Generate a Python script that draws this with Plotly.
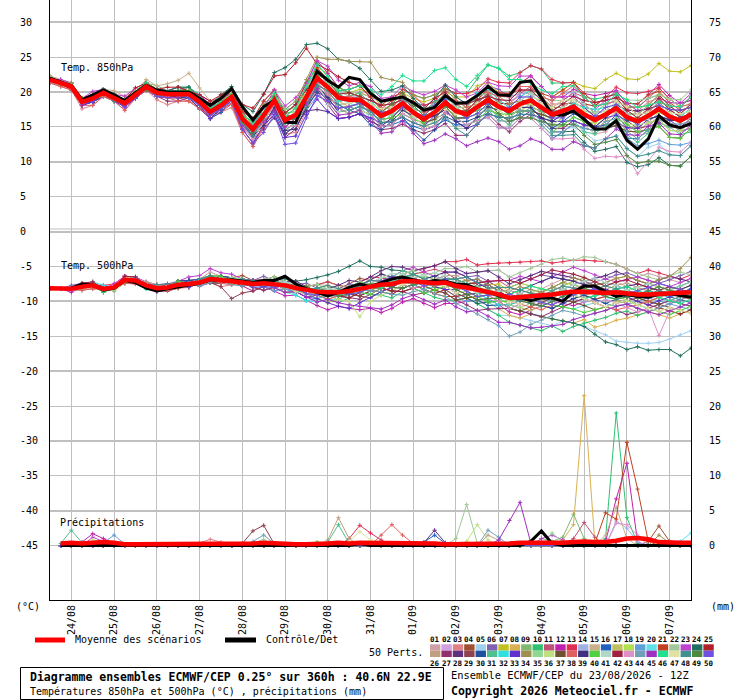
import pandas as pd
import plotly.graph_objects as go

FONT = "DejaVu Sans Mono"
GRID = "#c0c0c0"

# 6-hourly steps, run of 23/08/2026 12Z, 360h
times = pd.date_range("2026-08-23 12:00", periods=61, freq="6h")
day_ticks = pd.date_range("2026-08-24", "2026-09-07", freq="D")
day_labels = [d.strftime("%d/%m") for d in day_ticks]

left_ticks = list(range(-45, 31, 5))
right_ticks = list(range(0, 76, 5))

member_colors = [
    "#d0a0a8", "#d0a0e0", "#e08088", "#a05030", "#a0d0f0", "#8060b0", "#c0c020", "#d8b050", "#80b870", "#30c070",
    "#c05078", "#c020b0", "#e03050", "#a0b0e0", "#c8b088", "#2060c0", "#c0c060", "#b0e050", "#60a0d8", "#60e0e8",
    "#c04020", "#a0c898", "#c040d0", "#207060", "#b02028", "#c0a080", "#903070", "#603080", "#904050", "#2050a0",
    "#50c090", "#30e0e0", "#6030d0", "#a09050", "#90d890", "#c0e080", "#705030", "#e06060", "#403080", "#50d040",
    "#b0d8c8", "#a02040", "#e090c8", "#70a0b8", "#a030c0", "#20e090", "#e0e0a0", "#409090", "#508840", "#7050e0",
]

# ---- Temp 850 hPa (degC)
mean850 = [21.8, 21.3, 20.8, 18.6, 19.1, 19.9, 19.2, 18.4, 19.6, 20.8,
           19.9, 19.7, 19.7, 19.7, 18.6, 17.2, 18.1, 19.3, 16.2, 14.7,
           16.7, 18.8, 16.0, 16.7, 19.3, 22.0, 20.7, 19.2, 18.9, 18.9,
           17.8, 16.6, 17.3, 18.4, 17.1, 16.1, 17.1, 18.5, 17.3, 16.8,
           17.9, 18.9, 17.9, 17.3, 18.3, 18.8, 17.8, 16.8, 17.3, 17.9,
           16.8, 16.0, 16.8, 17.7, 16.4, 15.8, 16.6, 17.6, 16.5, 15.9, 16.8]
ctrl850 = [22.0, 21.5, 20.9, 18.9, 19.6, 20.3, 19.6, 18.8, 19.9, 21.0,
           20.3, 20.0, 20.0, 20.0, 19.1, 18.1, 19.1, 20.5, 17.9, 16.0,
           17.9, 18.8, 15.7, 15.6, 19.3, 23.0, 21.7, 20.7, 22.1, 21.8,
           19.8, 18.7, 19.0, 19.3, 18.5, 17.4, 17.8, 19.5, 18.4, 18.5,
           19.5, 20.8, 19.6, 19.5, 21.4, 21.6, 19.2, 16.8, 16.7, 17.3,
           16.1, 14.7, 14.7, 15.9, 13.1, 11.8, 13.3, 16.6, 15.3, 14.9, 15.5]
# member offsets from the mean, in half degrees
dev850 = [
    [0,0,0,1,1,0,0,-1,0,0, 1,1,0,1,2,2,1,0,-1,-2, -2,-1,0,1,2,3,2,1,0,-1, -2,-3,-2,-1,-2,-3,-2,0,1,0, -1,-2,-3,-4,-3,-2,-3,-4,-5,-4, -3,-4,-5,-4,-3,-4,-5,-4,-3,-2, -3],
    [1,1,0,0,1,1,1,0,1,1, 0,0,1,0,-1,-1,0,1,2,3, 2,1,2,3,4,3,2,2,1,1, 2,3,4,3,2,3,4,5,4,3, 2,1,2,3,2,1,0,1,2,1, 0,1,2,3,4,3,2,3,4,5, 4],
    [-1,-1,-1,-2,-2,-1,-1,-2,-1,-1, -2,-3,-2,-2,-1,-2,-2,-3,-4,-5, -4,-3,-4,-5,-4,-3,-2,-1,0,1, 0,1,2,1,0,-1,0,1,2,1, 2,3,2,1,2,3,4,3,2,3, 4,5,4,3,2,3,4,3,2,1, 2],
    [0,0,1,0,0,1,0,0,0,1, 1,0,0,1,1,0,0,1,2,1, 0,-1,-2,-1,0,-1,-2,-3,-4,-3, -2,-3,-4,-3,-2,-1,-2,-3,-2,-1, 0,1,0,-1,-2,-1,0,1,2,1, 0,-1,0,1,2,3,2,1,2,3, 2],
    [0,0,0,0,-1,0,0,0,-1,0, 0,-1,-1,0,0,-1,-1,0,1,2, 1,0,-1,0,1,0,-1,-2,-1,0, 1,0,-1,-2,-1,0,1,2,1,0, -1,-2,-3,-2,-1,-2,-3,-4,-5,-6, -5,-6,-7,-8,-9,-10,-9,-10,-11,-10, -9],
    [0,1,1,1,0,0,1,1,0,0, 1,1,1,2,1,1,2,2,1,0, 1,2,1,0,-1,-2,-1,0,1,2, 3,4,3,2,3,4,3,2,1,2, 3,4,5,4,3,2,1,2,3,4, 3,2,1,0,1,2,1,0,-1,0, 1],
    [-1,0,0,1,0,0,-1,0,0,0, -1,0,0,0,1,1,0,0,1,1, 2,1,0,1,2,3,4,3,2,3, 4,3,2,3,4,5,4,3,4,5, 6,5,4,5,6,7,6,5,6,7, 8,9,10,10,11,12,12,13,13,14, 14],
    [0,0,0,-1,0,0,0,-1,0,0, 0,0,-1,-1,0,0,-1,-1,0,1, 0,-1,0,1,2,1,0,-1,-2,-1, 0,1,0,-1,0,1,2,1,0,-1, -2,-1,0,1,0,-1,-2,-1,0,1, 2,1,0,-1,0,1,2,3,2,1, 0],
    [0,-1,0,0,1,1,0,1,1,1, 2,1,1,2,1,0,1,1,0,-1, -2,-3,-2,-1,-2,-3,-4,-3,-2,-1, -2,-1,0,-1,-2,-1,0,1,0,-1, -2,-3,-2,-1,0,-1,-2,-3,-4,-3, -2,-3,-4,-5,-4,-3,-2,-3,-4,-3, -2],
    [1,0,0,1,1,1,1,0,0,1, 1,1,2,2,2,1,1,2,3,2, 1,2,3,2,3,4,3,2,3,4, 5,4,3,4,5,6,5,4,5,6, 8,10,11,10,9,10,11,9,8,7, 5,6,5,4,3,4,5,4,3,2, 3],
    [-1,0,-1,-1,0,-1,-1,-1,0,-1, 0,-1,-1,-2,-2,-1,-2,-2,-3,-2, -1,-2,-3,-2,-1,0,-1,-2,-1,0, 1,2,1,0,1,2,3,2,1,2, 3,2,1,2,3,4,3,2,3,4, 5,4,3,2,3,4,5,6,5,4, 5],
    [0,0,1,1,0,1,1,1,1,0, 0,1,2,1,2,3,2,1,2,3, 4,3,2,3,4,5,4,3,2,1, 0,-1,-2,-1,0,1,0,-1,0,1, 2,3,4,5,6,7,6,5,4,5, 6,7,6,5,4,5,6,7,6,5, 4],
    [0,0,0,0,0,-1,0,0,0,-1, -1,0,0,-1,0,0,-1,0,1,2, 3,2,1,2,3,2,1,2,3,4, 3,2,3,4,5,4,3,4,5,6, 5,6,7,8,9,10,11,10,8,7, 5,4,5,6,7,8,7,6,5,4, 5],
    [0,0,0,-1,-1,0,0,-1,-1,0, -1,-1,0,0,-1,-1,0,0,-1,-2, -3,-2,-1,-2,-3,-2,-1,-2,-3,-2, -1,0,1,0,-1,0,1,2,1,0, 1,2,3,4,3,2,3,4,5,4, 3,2,3,4,3,2,1,2,3,2, 1],
    [1,1,1,1,1,1,2,2,1,2, 2,3,4,6,4,3,2,1,0,-1, -2,-1,0,1,0,-1,0,1,2,1, 0,-1,0,1,0,-1,-2,-1,0,1, 0,-1,-2,-3,-2,-1,0,1,0,-1, -2,-1,0,-1,-2,-3,-2,-1,0,-1, -2],
    [0,0,0,-1,-1,-1,0,0,-1,-1, -1,-1,-1,0,-1,-2,-2,-1,-2,-3, -2,-3,-4,-3,-2,-1,-2,-3,-2,-1, -2,-3,-4,-5,-4,-3,-4,-5,-4,-3, -4,-5,-6,-5,-4,-5,-6,-7,-6,-5, -4,-3,-4,-5,-6,-5,-4,-3,-2,-3, -4],
    [0,1,0,0,1,0,0,1,0,0, 0,1,1,1,0,1,1,0,1,2, 1,2,1,0,1,0,-1,0,1,2, 3,2,1,2,3,2,1,0,1,2, 1,0,-1,0,1,0,-1,-2,-1,0, 1,2,3,2,1,2,3,4,3,2, 3],
    [0,0,-1,0,0,0,0,0,-1,0, 0,-1,0,0,0,-1,0,-1,-2,-1, 0,1,2,3,2,1,0,-1,0,1, 2,1,0,1,2,3,2,1,2,3, 2,1,0,-1,0,1,2,1,0,-1, -2,-1,0,1,2,1,0,-1,0,1, 0],
    [0,0,0,0,0,1,0,0,0,1, 0,0,0,1,1,0,0,1,0,-1, 0,-1,-2,-3,-4,-5,-4,-3,-2,-3, -4,-3,-2,-1,0,-1,-2,-3,-2,-1, 0,1,0,-1,-2,-3,-4,-3,-2,-1, -2,-3,-4,-5,-6,-7,-8,-9,-8,-7, -8],
    [-1,-1,0,0,0,-1,-1,0,0,0, -1,0,0,-1,-1,0,0,-1,1,2, 3,2,3,4,3,2,1,0,-1,-2, -3,-2,-1,0,1,2,1,0,-1,0, 1,2,1,0,-1,-2,-3,-2,-1,0, 1,2,3,2,1,0,1,2,3,2, 1],
    [0,0,0,1,0,0,0,1,1,0, 0,0,1,0,0,1,1,2,2,3, 4,3,2,3,4,3,2,3,2,1, 2,3,4,3,2,1,2,3,2,1, 2,3,4,5,4,3,4,5,6,7, 6,5,4,3,4,5,6,5,4,3, 2],
    [0,0,0,0,1,0,0,0,1,0, 0,0,-1,0,0,-1,-1,0,-1,-2, -1,0,1,0,-1,-2,-3,-4,-3,-2, -1,-2,-3,-2,-1,-2,-3,-4,-5,-4, -3,-2,-1,-2,-3,-4,-3,-2,-1,0, 1,2,3,4,5,6,5,4,5,6, 7],
    [0,1,1,1,2,1,1,2,2,1, 1,1,1,1,2,2,2,1,0,1, 2,3,4,5,4,5,6,5,4,5, 6,5,4,5,6,7,6,5,6,5, 4,5,6,7,8,7,6,5,4,3, 2,3,4,5,4,3,2,3,4,5, 6],
    [0,0,0,0,0,1,1,0,1,1, 1,1,2,2,1,2,3,3,4,5, 6,8,15,16,15,10,11,11,11,9, 8,7,6,5,4,3,4,5,4,3, 2,1,0,-1,-2,-3,-4,-5,-6,-7, -8,-9,-10,-11,-13,-13,-14,-14,-14,-13, -12],
    [0,0,0,1,1,1,1,1,2,1, 1,2,2,1,2,3,3,2,4,6, 6,7,13,15,14,4,5,6,5,4, 3,2,1,2,3,2,1,0,1,0, -1,0,1,2,1,0,-1,0,1,2, 3,4,5,4,3,2,3,4,3,2, 3],
    [0,0,0,-1,0,0,0,0,0,0, 0,0,0,0,-1,0,0,0,-1,-1, -2,-1,0,-1,-2,-3,-2,-1,0,1, 0,-1,-2,-1,0,1,2,3,2,1, 0,1,2,1,0,-1,0,1,0,-1, -2,-3,-2,-1,-2,-3,-4,-3,-2,-3, -4],
    [0,0,-1,-1,-1,0,0,-1,-1,-1, -1,-2,-2,-1,-2,-2,-1,-2,-3,-4, -3,-4,-5,-4,-3,-4,-5,-6,-5,-4, -3,-4,-5,-6,-5,-4,-5,-6,-7,-6, -5,-4,-5,-6,-5,-4,-3,-4,-5,-4, -3,-2,-3,-4,-3,-2,-1,-2,-3,-2, -1],
    [0,0,0,0,-1,-1,0,0,-1,-1, 0,0,-1,-1,0,0,-1,-1,-2,-3, -4,-5,-4,-3,-4,-9,-7,-6,-5,-4, -4,-3,-2,-1,-2,-3,-4,-3,-2,-1, 0,-1,-2,-3,-4,-3,-2,-1,0,1, 2,1,0,1,2,3,2,1,2,1, 0],
    [0,0,0,0,0,0,0,1,0,0, 1,1,0,0,1,1,0,0,1,0, -1,0,1,0,-1,-2,-3,-4,-3,-2, -1,0,1,2,1,0,-1,-2,-1,0, 1,2,1,0,-1,-2,-1,0,1,2, 3,2,1,0,-1,-2,-3,-2,-1,0, 1],
    [0,0,0,0,-1,-1,-1,0,0,-1, -1,-1,-1,-1,-2,-1,-1,-1,-2,-2, -3,-2,-1,-2,-3,-4,-3,-2,-3,-4, -5,-4,-3,-4,-5,-6,-5,-4,-3,-2, -3,-4,-3,-2,-1,-2,-3,-4,-3,-2, -1,-2,-3,-2,-1,0,-1,-2,-1,0, -1],
    [0,0,1,0,0,0,1,0,0,0, 0,1,0,0,0,1,0,0,-1,-2, -1,-2,-3,-2,-1,-2,-1,0,1,2, 1,0,-1,0,1,2,3,2,1,0, -1,-2,-3,-4,-3,-2,-1,-2,-3,-4, -5,-4,-3,-4,-5,-6,-5,-4,-3,-4, -5],
    [0,0,0,0,0,0,0,0,0,0, 0,0,0,0,1,1,0,0,1,2, 2,1,0,-1,0,1,0,-1,0,1, 2,1,0,1,2,1,0,1,2,3, 4,3,2,1,2,3,2,1,0,1, 2,3,2,1,0,-1,0,1,2,1, 2],
    [0,0,0,-1,-1,0,-1,-1,-1,-1, -1,-1,0,-1,-1,-2,-1,-1,-3,-4, -3,-4,-5,-6,-5,-6,-7,-6,-5,-4, -3,-2,-3,-4,-3,-2,-1,-2,-3,-4, -5,-4,-3,-2,-3,-4,-3,-2,-3,-4, -3,-2,-1,-2,-3,-2,-1,0,-1,-2, -3],
    [0,0,1,1,0,1,1,0,0,1, 1,0,1,1,0,1,1,0,1,2, 3,2,3,4,5,6,8,11,11,11, 13,11,9,6,5,6,5,4,3,2, 3,4,3,2,1,2,3,2,1,2, 3,2,1,2,3,4,3,2,1,0, 1],
    [0,0,0,0,0,0,0,0,1,0, 0,0,0,1,0,0,0,1,1,0, 1,2,3,2,1,0,1,2,1,0, -1,-2,-1,0,1,0,-1,0,1,2, 3,2,1,0,1,2,3,4,3,2, 1,0,-1,0,1,2,3,4,5,4, 3],
    [0,-1,0,0,0,-1,0,0,0,-1, 0,-1,-1,0,-1,-1,0,-1,-2,-3, -2,-1,-2,-3,-2,-1,-2,-3,-4,-3, -2,-1,0,-1,-2,-3,-2,-1,0,-1, -2,-3,-4,-3,-2,-1,-2,-3,-2,-1, 0,-1,-2,-3,-2,-1,-2,-3,-4,-3, -2],
    [0,0,0,0,0,0,0,0,0,0, 0,0,0,0,0,0,0,0,0,-1, 0,1,0,-1,-2,-1,-2,-3,-2,-1, 0,1,2,1,0,-1,-2,-1,0,1, 2,1,0,-1,-2,-3,-2,-1,0,-1, -2,-3,-4,-5,-4,-3,-4,-5,-6,-5, -4],
    [-1,-1,-1,-1,-2,-1,-1,-2,-1,-1, -1,-1,-2,-2,-2,-1,-1,-2,-4,-5, -3,-2,-1,-2,-3,-2,-1,0,1,0, -1,0,1,2,3,2,1,2,3,2, 1,2,3,4,5,4,3,4,5,6, 5,4,3,2,3,2,1,2,3,4, 3],
    [0,0,0,0,-1,0,0,0,-1,0, 0,0,-1,0,0,0,-1,0,-1,-2, -3,-2,-3,-4,-3,-2,-3,-4,-3,-2, -1,-2,-3,-2,-1,0,-1,-2,-3,-4, -3,-2,-1,0,-1,-2,-3,-2,-1,0, -1,-2,-1,0,1,0,-1,-2,-1,0, -1],
    [0,0,0,1,0,0,0,1,0,0, 0,0,1,1,0,0,1,1,0,-1, 0,1,2,1,0,1,2,3,2,1, 0,-1,-2,-3,-2,-1,0,-1,-2,-3, -4,-3,-2,-1,-2,-3,-4,-5,-4,-3, -2,-3,-4,-3,-2,-3,-4,-5,-6,-5, -4],
    [0,0,0,0,0,0,0,0,0,0, 0,0,0,0,0,0,0,0,-1,-1, 0,-1,0,1,0,-1,-5,-4,-3,-2, -1,0,1,0,-1,0,1,2,1,0, 1,0,-1,0,1,2,1,0,1,2, 3,2,1,2,1,0,-1,0,1,0, -1],
    [0,0,0,0,1,0,0,0,1,0, 0,0,1,0,0,0,1,0,0,-1, 0,1,2,3,2,1,0,1,2,1, 2,3,2,1,2,3,4,3,2,3, 2,1,2,3,4,3,2,1,2,3, 4,5,4,3,2,1,2,3,2,1, 0],
    [0,0,0,0,0,0,0,0,0,0, 0,0,0,-1,-1,0,0,-1,-2,-3, -2,-1,-2,-3,-2,-1,-2,-3,-2,-1, -2,-3,-4,-3,-2,-3,-4,-3,-2,-3, -4,-5,-6,-5,-4,-5,-6,-7,-8,-9, -10,-11,-12,-14,-11,-15,-13,-11,-10,-9, -8],
    [0,0,0,0,0,0,0,0,0,0, 1,0,0,0,0,0,0,0,0,1, 2,1,0,-1,-2,-1,0,1,0,-1, -2,-1,0,1,2,3,2,1,0,-1, -2,-3,-4,-3,-2,-3,-4,-5,-6,-5, -4,-3,-2,-3,-4,-5,-4,-3,-2,-1, -2],
    [0,0,0,-1,0,0,0,-1,0,0, 0,-1,-1,0,-1,-1,0,-1,-2,-1, -2,-3,-2,-1,-2,-3,-4,-5,-4,-3, -4,-5,-6,-5,-6,-7,-8,-9,-8,-9, -10,-11,-10,-11,-12,-11,-10,-10,-11,-10, -9,-8,-7,-6,-5,-4,-3,-4,-5,-4, -3],
    [0,0,0,0,1,1,0,0,1,1, 0,1,1,0,1,1,1,0,1,2, 1,2,1,2,3,4,3,2,3,4, 5,6,7,8,9,11,12,10,9,8, 9,10,11,9,7,5,5,6,7,6, 5,4,3,4,5,4,3,2,3,4, 5],
    [0,0,0,0,0,0,0,0,0,0, 0,0,0,0,0,0,0,-1,-1,0, 1,0,-1,0,1,0,-1,-2,-1,0, 1,2,1,0,-1,-2,-3,-2,-1,0, 1,0,-1,-2,-1,0,1,2,3,2, 1,0,1,2,3,2,1,0,1,2, 1],
    [0,0,0,0,0,0,-1,0,0,0, -1,0,0,-1,0,0,0,0,-1,-2, -1,0,-1,-2,-3,-2,-1,-2,-3,-2, -1,-2,-3,-4,-3,-2,-3,-4,-5,-6, -5,-4,-3,-2,-3,-4,-5,-6,-7,-8, -9,-8,-7,-8,-9,-10,-11,-12,-11,-10, -9],
    [0,0,0,0,0,0,0,0,0,-1, 0,0,0,0,-1,0,0,0,-1,-1, 0,1,0,-1,0,1,2,1,0,-1, 0,1,2,3,2,1,0,-1,-2,-1, 0,-1,-2,-3,-4,-5,-4,-3,-4,-5, -6,-7,-8,-9,-11,-12,-13,-15,-14,-13, -12],
    [0,0,0,0,-1,0,0,-1,-1,0, -1,-1,0,-1,-1,-1,-1,-1,-3,-4, -5,-4,-7,-8,-6,-5,-4,-3,-2,-1, 0,1,0,-1,0,1,2,1,0,-1, -2,-1,0,1,2,1,0,-1,-2,-1, 0,1,2,1,0,-1,0,1,2,3, 2],
]

# ---- Temp 500 hPa (degC)
mean500 = [-8.1, -8.2, -8.2, -7.9, -7.7, -8.2, -8.0, -6.9, -7.0, -7.7,
           -8.1, -8.0, -7.6, -7.5, -7.3, -6.8, -6.9, -7.1, -7.3, -7.5,
           -7.4, -7.5, -7.7, -8.1, -8.4, -8.6, -8.7, -8.7, -8.5, -8.2,
           -8.0, -7.6, -7.5, -7.1, -7.1, -7.3, -7.4, -7.3, -7.8, -8.0,
           -8.3, -8.6, -9.0, -9.5, -9.4, -9.3, -9.2, -9.0, -8.8, -8.6,
           -8.6, -8.7, -8.8, -8.7, -8.9, -9.0, -9.0, -8.9, -8.9, -8.8, -8.7]
ctrl500 = [-8.2, -8.2, -8.1, -7.5, -7.6, -8.4, -8.1, -7.0, -7.3, -8.1,
           -8.5, -8.2, -7.9, -7.6, -7.4, -6.9, -7.0, -6.9, -7.1, -7.3,
           -7.0, -7.0, -6.4, -7.5, -8.2, -8.7, -9.2, -8.7, -8.0, -7.5,
           -7.9, -7.3, -6.8, -6.5, -6.9, -7.3, -7.0, -7.1, -7.5, -7.6,
           -8.2, -8.6, -9.2, -9.5, -9.5, -9.9, -9.5, -9.5, -10.0, -8.6,
           -7.8, -7.8, -8.6, -9.3, -9.0, -9.3, -9.4, -9.0, -8.9, -9.2, -9.4]
dev500 = [
    [0,0,0,0,0,0,0,1,1,0, 0,0,1,1,1,2,1,1,0,0, 1,1,0,0,1,2,2,1,1,0, 0,1,2,3,2,1,2,3,2,1, 0,1,2,3,4,3,2,3,4,5, 4,3,2,3,4,5,6,5,4,3, 4],
    [0,0,0,1,1,0,0,0,-1,0, 1,1,0,0,0,-1,-1,0,1,1, 0,-1,-1,0,1,0,-1,-2,-1,0, 1,2,1,0,-1,0,1,2,3,4, 5,6,7,6,5,6,7,6,5,4, 3,4,5,4,3,2,3,4,5,4, 3],
    [0,0,0,-1,-1,0,0,-1,-1,0, 0,-1,-1,0,-1,-1,-2,-1,0,-1, -2,-1,0,1,0,-1,-2,-1,0,1, 2,1,0,1,2,3,2,1,0,-1, 0,1,2,1,0,-1,-2,-1,0,1, 2,1,0,-1,-2,-3,-2,-1,-2,-3, -4],
    [0,0,0,0,0,0,-1,0,0,0, 0,1,0,0,1,0,0,1,2,1, 0,1,2,1,0,-1,0,1,2,3, 2,1,2,1,0,-1,-2,-1,0,1, 2,3,2,1,0,-1,-2,-3,-4,-3, -2,-1,0,1,0,-1,-2,-3,-2,-1, 0],
    [0,0,0,0,0,0,0,0,0,0, 0,0,-1,0,0,-1,0,0,-1,0, 0,-1,-2,-1,0,-1,-2,-1,0,-1, -2,-3,-2,-1,-2,-3,-2,-1,-2,-3, -4,-5,-6,-5,-6,-7,-8,-9,-8,-9, -10,-11,-12,-14,-14,-14,-14,-14,-13,-12, -11],
    [0,0,1,1,0,0,0,1,1,0, 0,1,1,1,0,1,1,0,0,1, 2,1,0,1,2,1,0,1,2,1, 0,-1,0,1,2,1,0,1,2,3, 4,3,2,3,4,5,6,5,4,3, 2,3,4,5,6,5,4,3,4,5, 6],
    [0,0,0,0,0,-1,0,0,0,0, -1,0,0,-1,0,0,0,-1,0,0, -1,-2,-1,0,-1,-2,-3,-2,-1,-2, -1,0,1,0,-1,-2,-3,-2,-1,0, 1,2,3,2,1,0,1,2,3,2, 1,2,3,4,5,4,3,2,1,0, -1],
    [0,0,0,0,0,0,0,1,0,0, 0,0,0,1,0,0,1,0,0,0, 0,1,0,-1,0,1,0,-1,-2,-1, 0,-1,-2,-1,0,1,0,-1,-2,-3, -2,-3,-4,-5,-6,-5,-6,-7,-8,-9, -8,-10,-9,-8,-7,-6,-5,-6,-7,-6, -5],
    [0,0,0,0,1,0,0,0,1,0, 0,0,1,0,0,0,1,1,0,1, 1,2,1,0,1,2,3,2,1,0, 1,2,1,0,-1,0,1,0,-1,-2, -1,0,1,2,1,0,1,2,3,2, 1,0,-1,0,1,2,1,0,-1,0, 1],
    [0,0,0,0,0,0,0,0,0,-1, 0,0,0,0,-1,0,0,0,-1,0, 0,-1,-2,-1,0,-1,-2,-3,-2,-1, -2,-3,-4,-3,-2,-3,-4,-5,-4,-3, -4,-5,-6,-7,-8,-9,-10,-9,-11,-10, -9,-8,-7,-6,-5,-6,-5,-4,-5,-6, -5],
    [0,0,0,0,0,0,0,0,0,0, 1,1,0,0,1,1,0,0,1,1, 0,0,1,1,0,0,-1,-1,0,1, 2,3,2,1,2,3,4,3,2,1, 2,3,4,3,2,1,0,1,2,3, 2,1,0,-1,0,1,2,1,0,1, 2],
    [0,0,-1,0,0,0,0,-1,0,0, 0,-1,0,0,-1,-1,0,0,-1,-2, -1,-2,-3,-2,-3,-4,-5,-4,-5,-6, -6,-8,-7,-6,-5,-6,-7,-6,-5,-4, -3,-2,-3,-4,-5,-4,-3,-2,-3,-4, -3,-2,-1,-2,-3,-4,-5,-4,-3,-2, -1],
    [0,0,0,0,0,1,1,1,1,0, 0,0,0,1,1,1,0,0,1,1, 1,2,1,0,1,2,3,2,1,2, 3,2,1,2,3,4,5,6,7,8, 7,8,9,10,10,10,10,9,9,9, 9,9,9,8,7,6,7,6,5,4, 5],
    [0,0,0,0,0,0,0,0,0,0, 0,0,0,0,0,0,-1,-1,0,0, 0,0,-1,-1,0,1,1,0,-1,0, 1,0,-1,-2,-1,0,1,2,1,0, -1,-2,-1,0,1,2,1,0,-1,-2, -3,-2,-1,0,-1,-2,-3,-2,-1,0, 1],
    [0,0,0,0,-1,0,0,0,-1,0, 0,0,-1,0,0,0,-1,0,0,-1, 0,1,0,-1,0,1,2,1,0,1, 2,3,2,1,0,1,2,1,0,-1, -2,-1,0,1,2,1,0,-1,-2,-1, 0,1,2,3,2,1,0,1,2,1, 0],
    [0,0,0,0,0,1,0,0,0,1, 0,0,0,1,1,0,0,0,1,0, -1,0,1,0,-1,0,1,0,-1,-2, -1,0,1,2,1,0,-1,0,1,2, 3,2,1,0,-1,0,1,2,1,0, 1,2,3,2,1,0,-1,0,1,2, 3],
    [0,0,0,0,0,0,0,0,0,0, 0,0,0,0,0,1,1,0,0,0, 1,0,-1,0,1,0,-1,-2,-1,0, 1,0,-1,0,1,2,1,0,-1,-2, -3,-2,-1,-2,-3,-4,-3,-2,-1,0, 1,0,-1,-2,-3,-2,-1,0,1,0, -1],
    [0,0,0,1,0,0,0,0,0,0, 0,0,0,0,0,0,1,1,0,0, 0,1,2,1,0,1,2,1,0,1, 2,1,0,-1,0,1,0,-1,-2,-1, 0,1,2,3,4,3,2,1,2,3, 4,3,2,1,0,1,2,3,2,1, 2],
    [0,0,0,0,0,0,0,0,0,0, 0,0,0,0,0,-1,-1,0,0,0, -1,-2,-1,0,-1,-2,-1,0,1,0, -1,-2,-3,-2,-1,0,-1,-2,-3,-4, -3,-2,-1,0,1,0,-1,-2,-1,0, -1,-2,-3,-4,-3,-2,-1,-2,-3,-4, -5],
    [0,0,0,0,0,0,0,0,0,0, 0,0,0,0,0,0,0,0,0,-1, -1,-1,-2,-2,-3,-3,-2,-2,-1,-1, 0,1,0,-1,0,1,2,1,0,-1, -2,-3,-4,-3,-2,-1,-2,-3,-4,-5, -4,-3,-2,-1,-2,-3,-4,-3,-2,-3, -4],
    [0,0,0,0,0,0,0,-1,0,0, 0,0,0,-1,0,0,0,-1,0,0, 0,1,0,0,1,0,-1,0,1,2, 1,0,-1,0,-1,-2,-3,-4,-3,-2, -1,0,1,2,1,0,-1,0,1,0, -1,-2,-1,0,1,2,3,2,1,0, -1],
    [0,0,0,0,0,0,0,0,0,0, 0,0,0,0,0,0,0,0,0,0, 0,1,1,0,0,1,1,0,0,1, 1,2,2,1,1,2,3,4,5,6, 5,6,7,6,7,8,9,10,10,9, 10,10,9,8,7,6,5,4,5,6, 5],
    [0,0,0,0,0,0,1,1,1,1, 1,0,1,2,2,3,2,2,1,1, 0,1,0,-1,0,1,0,-1,0,1, 2,1,2,3,4,3,2,3,4,3, 2,3,4,5,6,5,4,5,6,7, 6,5,4,3,4,5,4,3,2,3, 4],
    [0,0,0,0,0,0,0,0,0,0, 0,0,0,0,0,1,0,0,0,0, 1,1,2,2,3,4,5,6,7,8, 6,5,4,3,2,1,0,-1,-2,-3, -4,-3,-2,-3,-4,-5,-6,-7,-8,-9, -10,-12,-14,-15,-16,-15,-16,-16,-16,-18, -16],
    [0,0,0,0,0,-1,0,0,0,0, 0,0,0,0,0,-1,0,0,-1,0, 0,0,-1,0,0,-1,0,0,-1,-2, -1,-2,-3,-2,-1,-2,-3,-2,-1,0, 1,2,1,0,-1,-2,-3,-4,-3,-2, -1,0,1,0,-1,-2,-3,-4,-5,-6, -5],
    [0,0,0,0,0,0,0,0,0,1, 1,0,0,0,0,0,0,1,1,0, 0,0,1,1,0,0,1,2,1,0, -1,0,1,2,1,0,1,2,3,2, 1,0,-1,-2,-1,0,1,2,1,0, -1,0,1,2,3,2,1,0,-1,0, 1],
    [0,0,0,0,0,0,0,0,0,0, -1,-1,0,0,0,-1,-1,0,0,-1, -2,-1,0,-1,-2,-1,0,-1,-2,-3, -2,-1,-2,-3,-4,-3,-2,-3,-4,-5, -6,-5,-4,-3,-4,-5,-6,-5,-4,-3, -2,-3,-4,-5,-6,-5,-4,-3,-2,-3, -4],
    [0,0,0,0,0,0,0,0,0,0, 0,0,1,1,0,0,1,1,0,1, 1,0,1,2,1,0,1,2,3,2, 3,4,5,4,3,4,5,6,5,4, 5,6,5,4,5,6,7,6,5,4, 3,4,5,6,5,4,3,4,5,4, 3],
    [0,0,0,0,0,0,0,0,0,0, 0,0,0,0,0,-1,-2,-5,-3,-2, -1,0,1,0,-1,0,1,0,-1,-2, -3,-2,-1,0,1,0,-1,-2,-3,-2, -1,0,1,0,-1,-2,-3,-2,-1,0, 1,2,1,0,-1,0,1,2,1,0, -1],
    [0,0,0,0,0,0,0,0,0,0, 0,0,1,1,0,0,1,1,0,0, -1,0,1,0,-1,0,1,0,-1,0, 1,0,-1,-2,-1,0,1,0,-1,-2, -3,-4,-3,-2,-1,-2,-3,-4,-3,-2, -1,-2,-3,-2,-1,0,1,0,-1,-2, -3],
    [0,0,0,0,0,0,0,0,0,0, 0,0,0,0,1,1,0,0,0,0, 0,-1,0,1,0,-1,0,1,0,-1, 0,1,2,3,2,1,0,-1,0,1, 2,1,0,-1,0,1,2,1,0,-1, -2,-1,0,1,2,1,0,-1,-2,-1, 0],
    [0,0,0,0,1,1,0,0,1,0, 0,0,0,0,0,0,0,0,0,0, 0,0,-1,-2,-3,-2,-1,0,1,0, -1,0,1,0,-1,-2,-1,0,1,0, -1,-2,-3,-2,-1,-2,-3,-2,-1,0, 1,0,-1,-2,-1,0,1,0,-1,0, 1],
    [0,0,0,0,0,0,0,0,0,0, 0,0,0,0,0,0,0,0,0,0, 0,0,-1,-1,-2,-2,-3,-4,-5,-4, -3,-2,-1,0,1,0,-1,-2,-1,0, 1,2,1,0,-1,-2,-1,0,1,2, 3,2,1,0,-1,-2,-3,-2,-1,0, 1],
    [0,0,0,0,0,0,0,0,0,0, 0,0,0,0,0,0,0,0,0,0, 1,0,-1,0,1,0,-1,0,1,0, -1,0,1,2,1,0,-1,0,1,2, 3,2,1,2,3,2,1,2,3,4, 3,2,3,4,5,4,3,4,5,7, 10],
    [0,0,0,-1,0,0,-1,-1,0,0, 0,0,0,0,0,0,0,1,1,0, 1,2,1,0,1,2,1,0,1,2, 1,0,1,2,3,2,1,0,-1,0, 1,0,-1,-2,-3,-2,-1,0,1,2, 1,0,-1,0,1,2,3,2,1,2, 3],
    [0,0,0,0,0,0,0,0,0,0, 0,0,0,0,0,0,0,0,0,0, 0,0,-1,0,1,0,-1,-2,-3,-8, -4,-3,-2,-1,0,-1,-2,-1,0,1, 0,-1,-2,-1,0,1,2,1,0,-1, 0,1,0,-1,-2,-3,-2,-1,0,-1, -2],
    [0,0,0,0,0,0,0,0,0,0, 0,-1,-1,0,0,-1,-1,0,0,0, 0,0,0,-1,-1,0,0,-1,-1,0, 0,-1,-2,-3,-2,-1,-2,-3,-4,-3, -2,-1,-2,-3,-4,-3,-2,-1,-2,-3, -4,-5,-4,-3,-2,-1,-2,-3,-4,-5, -6],
    [0,0,0,-1,-1,0,0,-1,-1,0, 0,-1,-1,-1,0,0,-1,-1,0,0, 0,-1,-2,-1,0,-1,-2,-1,0,1, 0,-1,0,1,2,1,0,-1,0,1, 2,1,0,-1,-2,-3,-4,-3,-2,-1, -2,-3,-4,-5,-4,-3,-2,-1,0,-1, -2],
    [0,0,0,0,0,0,0,0,0,0, 0,0,0,0,0,0,0,0,0,0, 0,1,0,-1,0,1,0,-1,0,1, 2,3,2,1,0,1,2,3,4,3, 2,1,0,1,2,3,4,5,4,3, 2,1,0,1,2,3,2,1,0,1, 2],
    [0,0,0,0,0,0,0,0,0,0, 0,0,1,0,0,1,1,0,0,0, 0,-1,0,1,0,-1,0,1,0,-1, -2,-1,0,-1,-2,-3,-2,-1,0,-1, -2,-3,-2,-1,0,-1,-2,-3,-4,-5, -6,-5,-4,-3,-2,-3,-4,-5,-6,-5, -4],
    [0,0,0,0,0,0,0,0,0,0, 0,0,0,0,0,0,0,0,0,0, 0,0,1,1,0,0,1,1,0,0, 1,2,3,2,1,2,3,2,1,0, -1,0,1,2,1,0,-1,0,1,2, 3,4,3,2,1,2,3,2,1,0, -1],
    [0,0,0,1,1,0,0,1,1,0, 0,0,0,0,0,0,0,0,0,0, 0,1,0,0,1,0,0,-1,-2,-1, 0,-1,-2,-3,-2,-1,0,1,2,1, 2,3,4,5,4,5,6,7,6,5, 4,3,2,3,4,3,2,1,2,1, 0],
    [0,0,0,0,0,0,0,0,0,0, 0,0,0,0,0,0,0,0,0,0, 0,-1,0,1,0,-1,0,1,0,-1, 0,1,0,-1,-2,-1,0,-1,-2,-1, 0,-1,-2,-3,-2,-1,-2,-3,-2,-1, -2,-3,-2,-3,-4,-5,-4,-12,-5,-4, -3],
    [0,0,0,0,0,0,0,0,0,0, 0,0,0,0,-1,-1,0,-1,-1,0, 0,0,-1,-1,0,0,-1,-1,0,0, -1,-2,-3,-4,-3,-2,-3,-4,-5,-6, -7,-8,-9,-11,-10,-8,-7,-6,-5,-6, -7,-6,-5,-4,-3,-4,-5,-4,-3,-2, -1],
    [0,0,0,0,0,0,0,0,0,0, 0,0,0,0,0,0,0,0,0,0, 0,-1,-2,-1,-2,-3,-2,-3,-4,-5, -6,-7,-6,-5,-4,-5,-6,-5,-6,-7, -6,-7,-8,-7,-8,-9,-9,-9,-9,-8, -7,-6,-5,-4,-3,-4,-5,-6,-5,-4, -3],
    [0,0,0,0,0,-1,0,0,0,-1, 0,0,0,0,0,0,0,0,0,0, 0,1,0,-1,0,1,0,-1,0,1, 0,-1,0,1,2,1,0,1,2,1, 0,-1,0,1,2,3,2,1,0,-1, -2,-1,0,1,2,1,0,-1,-2,-3, -2],
    [0,0,0,0,0,0,0,0,0,0, 0,0,0,0,0,0,0,0,0,0, 0,0,0,-1,-1,0,0,1,1,0, 0,1,0,-1,0,1,0,-1,-2,-1, 0,1,0,-1,-2,-1,0,1,0,-1, -2,-3,-4,-3,-2,-3,-4,-5,-4,-5, -6],
    [0,0,0,0,0,0,0,0,0,0, 1,1,0,0,1,1,0,0,1,1, 0,1,2,1,0,1,2,1,0,1, 2,1,0,1,2,1,0,1,2,3, 2,1,2,3,2,1,0,1,2,1, 0,1,2,1,0,-1,0,1,0,-1, 0],
    [0,0,0,0,0,0,0,0,0,0, 0,0,0,0,0,0,0,0,0,0, 0,0,0,1,1,0,0,-1,-1,0, 1,0,-1,-2,-1,0,1,0,-1,-2, -3,-2,-1,0,-1,-2,-3,-2,-1,0, 1,0,-1,-2,-1,0,1,2,1,0, -1],
    [0,0,0,0,0,0,0,0,0,0, -1,0,0,-1,0,0,0,0,0,-1, -1,-1,0,0,-1,-1,0,0,-1,-1, 0,1,2,1,0,-1,0,1,0,-1, -2,-1,0,1,0,-1,-2,-3,-2,-1, 0,1,0,-1,0,1,2,3,2,1, 0],
]

# ---- Precipitation (mm per 6h), steps 1..60
mean_rr = [0.3, 0.4, 0.3, 0.4, 0.5, 0.4, 0.2, 0.2, 0.2, 0.2,
           0.2, 0.2, 0.2, 0.2, 0.3, 0.3, 0.2, 0.2, 0.3, 0.4,
           0.3, 0.2, 0.2, 0.2, 0.2, 0.3, 0.4, 0.3, 0.4, 0.4,
           0.4, 0.4, 0.3, 0.3, 0.3, 0.3, 0.2, 0.2, 0.3, 0.3,
           0.3, 0.3, 0.3, 0.4, 0.4, 0.4, 0.3, 0.4, 0.5, 0.6,
           0.5, 0.5, 0.7, 1.0, 1.1, 0.9, 0.5, 0.4, 0.4, 0.4]
ctrl_rr = {29: 0.3, 45: 0.6, 46: 2.1, 47: 0.3}
member_rr = {
    3: {14: 0.4, 15: 0.9, 16: 0.5},
    4: {56: 0.6, 57: 2.8, 58: 0.6},
    8: {48: 0.8, 49: 3.0, 50: 21.5, 51: 0.4},
    9: {46: 1.0, 47: 0.6, 48: 1.2, 49: 4.5, 50: 1.0},
    10: {52: 1.0, 53: 19.0, 54: 4.0, 55: 0.3},
    11: {49: 1.0, 50: 3.3, 51: 1.2},
    12: {3: 0.5, 4: 1.7, 5: 1.0, 6: 0.3, 52: 0.5, 53: 6.7, 54: 11.8, 55: 0.5},
    13: {28: 1.0, 29: 2.9, 30: 1.8, 31: 0.8},
    14: {53: 3.5, 54: 2.5, 55: 0.5},
    15: {52: 1.5, 53: 5.5, 54: 1.0},
    16: {35: 0.5, 36: 1.5, 37: 0.3},
    19: {5: 0.4, 6: 1.5, 7: 0.2},
    20: {58: 0.5, 59: 0.6, 60: 1.8},
    21: {51: 0.3, 52: 4.7, 53: 3.8, 54: 14.8, 55: 8.1, 56: 0.6},
    22: {38: 1.0, 39: 5.9, 40: 0.3},
    23: {4: 1.2, 5: 0.6, 46: 1.0, 47: 1.5, 48: 0.8},
    26: {26: 0.8, 27: 4.0, 28: 1.0, 41: 1.5, 42: 0.8},
    28: {35: 0.4, 36: 2.2, 37: 0.4},
    29: {18: 0.3, 19: 2.1, 20: 2.9, 21: 0.2},
    31: {1: 0.3, 2: 2.2, 3: 0.4, 26: 0.5, 27: 3.0, 28: 0.3},
    34: {57: 1.5, 58: 0.4},
    35: {19: 0.3, 20: 0.9, 47: 1.8, 48: 0.5},
    36: {4: 0.8, 5: 0.5, 39: 0.6, 40: 3.0, 41: 0.8},
    38: {31: 1.5, 32: 3.0, 33: 1.5, 34: 0.3},
    40: {24: 0.2, 25: 0.5, 26: 0.2},
    43: {53: 3.2, 54: 3.0, 55: 1.5},
    44: {19: 0.6, 20: 1.5, 21: 0.3, 41: 2.2, 42: 1.2},
    45: {42: 0.8, 43: 3.6, 44: 6.2, 45: 0.4},
    47: {28: 0.6, 29: 2.0, 30: 0.8},
}

# ---------------------------------------------------------------
W, H = 740, 700
ML, MR, MT, MB = 50, 49, 0, 100


def px(x):
    return (x - ML) / (W - ML - MR)


def py(y):
    return (H - MB - y) / (H - MT - MB)


fig = go.Figure()


def member_trace(x, y, color, axis="y"):
    return go.Scatter(
        x=x, y=y, yaxis=axis, mode="lines+markers",
        line=dict(color=color, width=1),
        marker=dict(symbol="cross-thin", size=3, line=dict(color=color, width=1)),
        hoverinfo="skip", showlegend=False,
    )


for k in range(50):
    c = member_colors[k]
    y = [m + 0.5 * d for m, d in zip(mean850, dev850[k])]
    fig.add_trace(member_trace(times[:len(y)], y, c))
for k in range(50):
    c = member_colors[k]
    y = [m + 0.5 * d for m, d in zip(mean500, dev500[k])]
    fig.add_trace(member_trace(times[:len(y)], y, c))

for series in (ctrl850, ctrl500):
    fig.add_trace(go.Scatter(x=times, y=series, mode="lines", line=dict(color="black", width=3),
                             hoverinfo="skip", showlegend=False))
for series in (mean850, mean500):
    fig.add_trace(go.Scatter(x=times, y=series, mode="lines", line=dict(color="#ff0000", width=4.5),
                             hoverinfo="skip", showlegend=False))

# precipitation, right-hand scale
rr_times = times[1:]
for k in range(50):
    spikes = member_rr.get(k + 1, {})
    vals = [spikes.get(i, 0.0) for i in range(1, 61)]
    fig.add_trace(member_trace(rr_times, vals, member_colors[k], axis="y2"))
fig.add_trace(go.Scatter(x=rr_times, y=[ctrl_rr.get(i, 0.0) for i in range(1, 61)], yaxis="y2",
                         mode="lines", line=dict(color="black", width=3), hoverinfo="skip", showlegend=False))
fig.add_trace(go.Scatter(x=rr_times, y=mean_rr, yaxis="y2", mode="lines",
                         line=dict(color="#ff0000", width=4.5), hoverinfo="skip", showlegend=False))
# carrier for the heavier grid lines
fig.add_trace(go.Scatter(x=[times[0]], y=[None], yaxis="y3", mode="lines", hoverinfo="skip", showlegend=False))

yr = [-52.8, 33.2]
yr2 = [yr[0] + 45, yr[1] + 45]

fig.update_layout(
    template="none",
    width=W, height=H,
    margin=dict(l=ML, r=MR, t=MT, b=MB, pad=0),
    paper_bgcolor="white", plot_bgcolor="white",
    font=dict(family=FONT, size=10, color="black"),
    showlegend=False,
    xaxis=dict(
        type="date", range=[times[0], times[-1]],
        tickvals=list(day_ticks), ticktext=day_labels, tickangle=-90,
        tickfont=dict(size=10), ticks="", automargin=False,
        showgrid=True, gridcolor=GRID, gridwidth=1, zeroline=False,
        showline=True, linecolor="black", linewidth=1,
    ),
    yaxis=dict(
        range=yr, tickvals=left_ticks,
        ticktext=[str(v).ljust(3, "\u00a0") for v in left_ticks],
        tickfont=dict(size=10), ticks="", ticklabelstandoff=9, automargin=False,
        showgrid=False, zeroline=False,
        showline=True, linecolor="black", linewidth=1,
    ),
    yaxis2=dict(
        overlaying="y", side="right", range=yr2, tickvals=right_ticks,
        tickfont=dict(size=10), ticks="", ticklabelstandoff=15, automargin=False,
        showgrid=True, gridcolor=GRID, gridwidth=1, zeroline=False,
        showline=True, linecolor="black", linewidth=1,
    ),
    yaxis3=dict(
        overlaying="y", side="right", range=yr2, tickvals=list(range(5, 76, 10)),
        showticklabels=False, ticks="", automargin=False,
        showgrid=True, gridcolor=GRID, gridwidth=2, zeroline=False, showline=False,
    ),
)

shapes = [
    # panel separator (double line)
    dict(type="line", xref="paper", yref="y", x0=0, x1=1, y0=0.38, y1=0.38,
         line=dict(color=GRID, width=1), layer="below"),
    # legend samples
    dict(type="line", xref="paper", yref="paper", x0=px(35), x1=px(65), y0=py(640), y1=py(640),
         line=dict(color="#ff0000", width=5)),
    dict(type="line", xref="paper", yref="paper", x0=px(225), x1=px(256), y0=py(640), y1=py(640),
         line=dict(color="black", width=5)),
    # title box
    dict(type="rect", xref="paper", yref="paper", x0=px(20.5), x1=px(443.5), y0=py(667.5), y1=py(699.5),
         line=dict(color="black", width=1)),
]

annotations = []


def note(text, x, y, size=10, anchor="left"):
    annotations.append(dict(text=text, x=px(x), y=py(y), xref="paper", yref="paper",
                            xanchor=anchor, yanchor="middle", showarrow=False,
                            font=dict(family=FONT, size=size, color="black")))


note("Temp. 850hPa", 59, 67)
note("Temp. 500hPa", 59, 265)
note("Précipitations", 58, 522)
note("(°C)", 14, 606)
note("(mm)", 709, 606)
note("Moyenne des scénarios", 73, 639)
note("Contrôle/Det", 264, 639)
note("50 Perts.", 425, 652, anchor="right")
note("<b>Diagramme ensembles ECMWF/CEP 0.25° sur 360h : 40.6N 22.9E</b>", 28, 677, size=11.5)
note("Températures 850hPa et 500hPa (°C) , précipitations (mm)", 28, 691)
note("Ensemble ECMWF/CEP du 23/08/2026 - 12Z", 449, 675, size=10.4)
note("<b>Copyright 2026 Meteociel.fr - ECMWF</b>", 449, 691, size=11.5)

# member colour key
pitch = 11.39
for k in range(50):
    col, row = k % 25, k // 25
    x0 = 430 + col * pitch
    y0 = 644.3 + row * 6.35
    shapes.append(dict(type="rect", xref="paper", yref="paper",
                       x0=px(x0), x1=px(x0 + 10.4), y0=py(y0), y1=py(y0 + 6.35),
                       fillcolor=member_colors[k], line=dict(width=0)))
for col in range(25):
    cx = 435.3 + col * pitch
    note(f"<b>{col + 1:02d}</b>", cx, 639, size=7.5, anchor="center")
    note(f"<b>{col + 26:02d}</b>", cx, 663, size=7.5, anchor="center")

fig.update_layout(shapes=shapes, annotations=annotations)

# page without the default body margin, so the figure sits at the window corner
fig.write_html("out.html", config={"displayModeBar": False},
               post_script="document.body.style.margin='0';")
